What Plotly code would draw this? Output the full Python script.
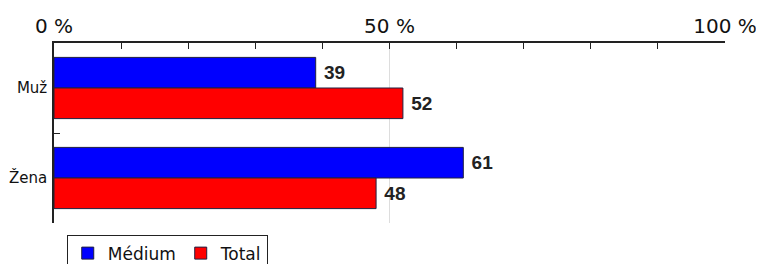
import plotly.graph_objects as go

categories = ["Muž", "Žena"]
medium = [39, 61]
total = [52, 48]
series_names = ["Médium", "Total"]

fig = go.Figure()
for name, vals, color in [(series_names[0], medium, "#0000FF"), (series_names[1], total, "#FF0000")]:
    fig.add_trace(go.Bar(
        y=categories, x=vals, name=name, orientation="h",
        marker=dict(color=color, line=dict(color="#202040", width=1)),
        texttemplate=" %{x}", textposition="outside",
        textfont=dict(family="Liberation Sans, Arial", size=19, color="#222222", weight="bold"),
        cliponaxis=False,
    ))

fig.update_layout(
    width=756, height=256,
    margin=dict(l=46, r=39, t=35, b=41, autoexpand=False),
    paper_bgcolor="white", plot_bgcolor="white",
    barmode="group", bargap=0.32, bargroupgap=0,
    showlegend=True,
    legend=dict(orientation="h", x=0.019, xanchor="left",
                yref="container", y=0.115, yanchor="top",
                bordercolor="#222222", borderwidth=1,
                font=dict(family="DejaVu Sans, Verdana", size=17, color="#111111"),
                traceorder="normal", itemwidth=30, tracegroupgap=0),
    font=dict(family="DejaVu Sans, Verdana", color="#111111"),
)
fig.update_xaxes(
    side="top", range=[0, 100], tickvals=[0, 50, 100], ticktext=["0 %", "50 %", "100 %"],
    tickfont=dict(size=20, family="DejaVu Sans, Verdana"),
    showline=True, linecolor="#222222", linewidth=1.5,
    ticks="inside", ticklen=6, tickcolor="#222222",
    showgrid=True, gridcolor="#DDDDDD", gridwidth=1, zeroline=False,
    minor=dict(dtick=10, ticks="inside", ticklen=6, tickcolor="#222222", showgrid=False),
    fixedrange=True, automargin=False,
)
fig.update_yaxes(
    autorange="reversed", tickson="boundaries",
    showline=True, linecolor="#222222", linewidth=1.5,
    ticks="inside", ticklen=6, tickcolor="#222222",
    tickfont=dict(size=15, family="DejaVu Sans, Verdana"),
    ticklabelstandoff=2,
    showgrid=False, automargin=False,
)

fig.write_html("out.html")
